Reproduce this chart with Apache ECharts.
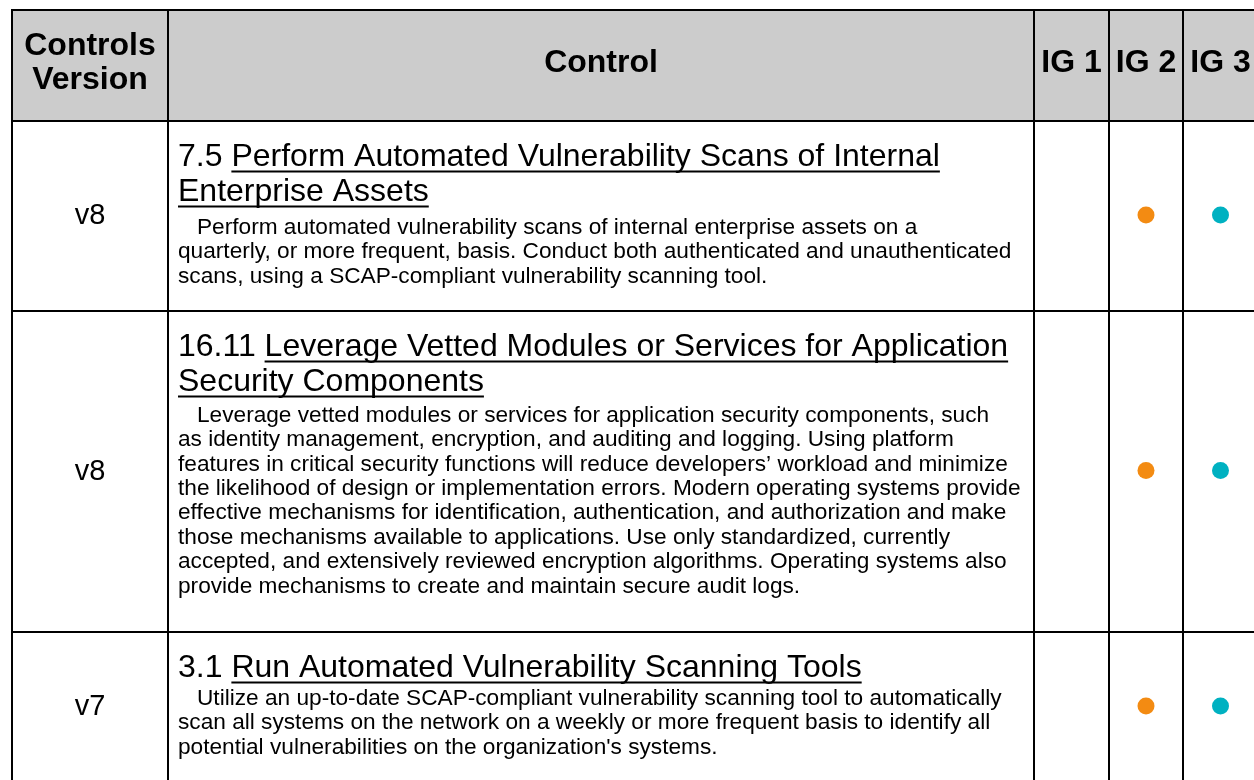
<!DOCTYPE html>
<html><head><meta charset="utf-8">
<script src="https://cdn.jsdelivr.net/npm/echarts@6/dist/echarts.min.js"></script>
<style>html,body{margin:0;padding:0;background:#fff}#c{width:1254px;height:780px}</style>
</head><body><div id="c"></div>
<script>
// ---- data ----
const headers = ['Controls\nVersion', 'Control', 'IG 1', 'IG 2', 'IG 3'];
const versions = ['v8', 'v8', 'v7'];
const controlIds = ['7.5', '16.11', '3.1'];
const controlTitles = [
  'Perform Automated Vulnerability Scans of Internal\nEnterprise Assets',
  'Leverage Vetted Modules or Services for Application\nSecurity Components',
  'Run Automated Vulnerability Scanning Tools'
];
const controlDescriptions = [
  'Perform automated vulnerability scans of internal enterprise assets on a\nquarterly, or more frequent, basis. Conduct both authenticated and unauthenticated\nscans, using a SCAP-compliant vulnerability scanning tool.',
  'Leverage vetted modules or services for application security components, such\nas identity management, encryption, and auditing and logging. Using platform\nfeatures in critical security functions will reduce developers\u2019 workload and minimize\nthe likelihood of design or implementation errors. Modern operating systems provide\neffective mechanisms for identification, authentication, and authorization and make\nthose mechanisms available to applications. Use only standardized, currently\naccepted, and extensively reviewed encryption algorithms. Operating systems also\nprovide mechanisms to create and maintain secure audit logs.',
  "Utilize an up-to-date SCAP-compliant vulnerability scanning tool to automatically\nscan all systems on the network on a weekly or more frequent basis to identify all\npotential vulnerabilities on the organization's systems."
];
const ig1 = [0, 0, 0];
const ig2 = [1, 1, 1];
const ig3 = [1, 1, 1];

// ---- layout (pixel units on hidden value axes) ----
const colEdges = [12, 168, 1034, 1109, 1183, 1258];
const rowEdges = [10, 121, 311, 632, 782];
const FONT = '"Liberation Sans", Arial, sans-serif';
const headerSize = 32, titleSize = 32, bodySize = 22.67, versionSize = 29;
const headerShift = -2, headerLH = 34;
const titleTop = 36.5, titleLH = 35, bodyGaps = [35, 33, 30], bodyLH = 24.4, padL = 10, indent = 19;
const igColors = ['#F28C1B', '#F38B12', '#00B1C1'];
const DOT_R = 8.5;

const measureCtx = document.createElement('canvas').getContext('2d');
function tw(text, size, weight) {
  measureCtx.font = (weight || 'normal') + ' ' + size + 'px ' + FONT;
  return measureCtx.measureText(text).width;
}

function renderItem(params, api) {
  const r = api.value(0);
  const P = (x, y) => api.coord([x, y]);
  const children = [];
  const top = rowEdges[r], bot = rowEdges[r + 1];
  const x0 = colEdges[0], x1 = colEdges[colEdges.length - 1];
  const tl = P(x0, top), br = P(x1, bot);
  children.push({ type: 'rect', shape: { x: tl[0], y: tl[1], width: br[0] - tl[0], height: br[1] - tl[1] },
    style: { fill: r === 0 ? '#CCCCCC' : '#FFFFFF' } });
  const midY = (top + bot) / 2;
  const cx = c => (colEdges[c] + colEdges[c + 1]) / 2;
  if (r === 0) {
    headers.forEach((h, c) => {
      const p = P(cx(c), midY + headerShift);
      children.push({ type: 'text', style: { text: h, x: p[0], y: p[1], font: 'bold ' + headerSize + 'px ' + FONT,
        fill: '#000', align: 'center', verticalAlign: 'middle', lineHeight: headerLH } });
    });
  } else {
    const i = r - 1;
    let p = P(cx(0), midY);
    children.push({ type: 'text', style: { text: versions[i], x: p[0], y: p[1], font: versionSize + 'px ' + FONT,
      fill: '#000', align: 'center', verticalAlign: 'middle' } });
    const tx = colEdges[1] + padL;
    const tLines = controlTitles[i].split('\n');
    const prefix = controlIds[i] + ' ';
    tLines.forEach((ln, k) => {
      const y = top + titleTop + k * titleLH;
      let sx = tx;
      if (k === 0) {
        const pp = P(sx, y);
        children.push({ type: 'text', style: { text: prefix, x: pp[0], y: pp[1], font: titleSize + 'px ' + FONT,
          fill: '#000', align: 'left', verticalAlign: 'middle' } });
        sx += tw(prefix, titleSize);
      }
      const pp = P(sx, y);
      children.push({ type: 'text', style: { text: ln, x: pp[0], y: pp[1], font: titleSize + 'px ' + FONT,
        fill: '#000', align: 'left', verticalAlign: 'middle' } });
      const w = tw(ln, titleSize);
      const u1 = P(sx, y + 14), u2 = P(sx + w, y + 14);
      children.push({ type: 'line', shape: { x1: u1[0], y1: u1[1], x2: u2[0], y2: u2[1] },
        style: { stroke: '#000', lineWidth: 2 } });
    });
    const bStart = top + titleTop + (tLines.length - 1) * titleLH + bodyGaps[i];
    controlDescriptions[i].split('\n').forEach((ln, k) => {
      const pp = P(tx + (k === 0 ? indent : 0), bStart + k * bodyLH);
      children.push({ type: 'text', style: { text: ln, x: pp[0], y: pp[1], font: bodySize + 'px ' + FONT,
        fill: '#000', align: 'left', verticalAlign: 'middle' } });
    });
    [ig1, ig2, ig3].forEach((arr, g) => {
      if (arr[i]) {
        const dp = P(cx(2 + g), midY - 1);
        children.push({ type: 'circle', shape: { cx: dp[0], cy: dp[1], r: DOT_R }, style: { fill: igColors[g] } });
      }
    });
  }
  const line = (ax, ay, bx, by) => {
    const a = P(ax, ay), b = P(bx, by);
    children.push({ type: 'line', shape: { x1: a[0], y1: a[1], x2: b[0], y2: b[1] }, style: { stroke: '#000', lineWidth: 2 } });
  };
  line(x0 - 1, top, x1, top);
  line(x0 - 1, bot, x1, bot);
  colEdges.forEach(x => line(x, top, x, bot));
  return { type: 'group', children };
}

const chart = echarts.init(document.getElementById('c'), null, { renderer: 'canvas' });
chart.setOption({
  animation: false,
  backgroundColor: '#fff',
  grid: { left: 0, top: 0, width: 1254, height: 780 },
  xAxis: { type: 'value', min: 0, max: 1254, show: false },
  yAxis: { type: 'value', min: 0, max: 780, inverse: true, show: false },
  series: [{
    type: 'custom',
    renderItem,
    clip: false,
    data: [0, 1, 2, 3].map(v => [v])
  }]
});
</script></body></html>
